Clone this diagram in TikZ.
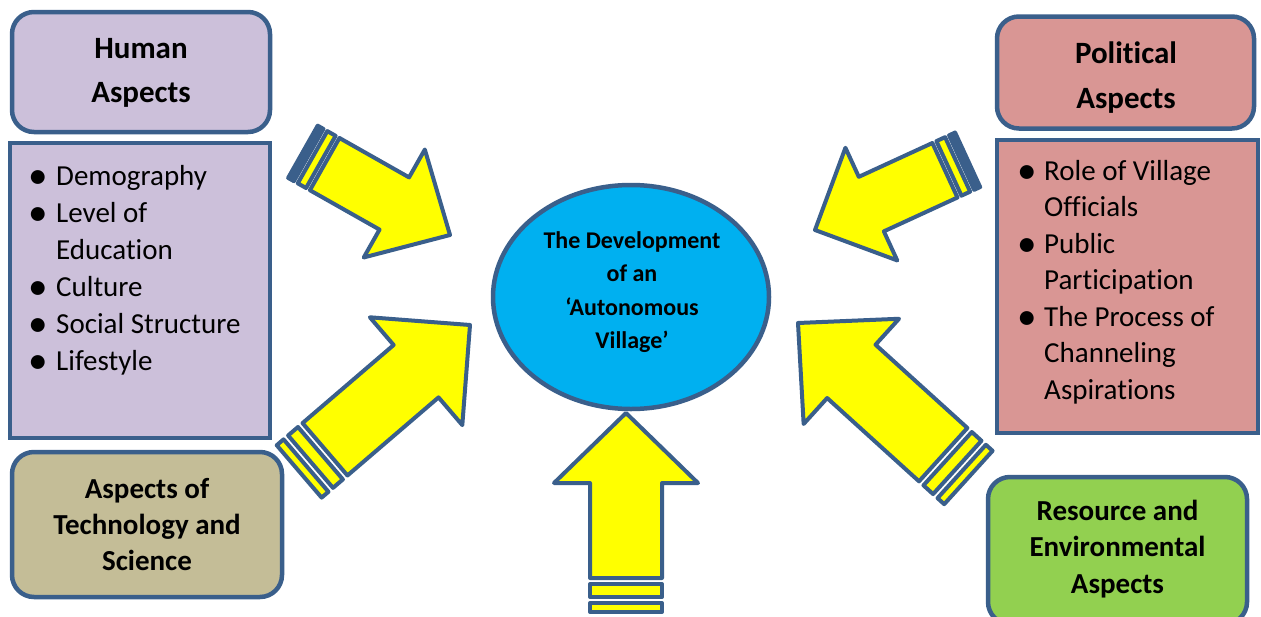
\documentclass[tikz,border=0pt]{standalone}
\usepackage{fontspec}
\usepackage{graphicx}
\setmainfont{Carlito}[Ligatures={NoCommon,NoContextual}]
\usetikzlibrary{shapes.geometric}
\definecolor{edge}{HTML}{3A5F8B}
\definecolor{lav}{HTML}{CCC0DA}
\definecolor{tan}{HTML}{C4BD97}
\definecolor{pinkish}{HTML}{D99694}
\definecolor{grn}{HTML}{92D050}
\definecolor{cyanish}{HTML}{00B0F0}
\definecolor{yel}{HTML}{FFFF00}
\tikzset{
  roundbox/.style={draw=edge, line width=4.5pt, rounded corners=22pt, inner sep=0pt},
  listbox/.style={draw=edge, line width=4.5pt, inner sep=0pt},
  arrowbody/.style={fill=yel, draw=edge, line width=4pt, line join=round},
  txt/.style={anchor=base, inner sep=0pt},
  ltxt/.style={anchor=base west, inner sep=0pt},
}
\def\stripetwofill{yel}
\newcommand\striparrow[9]{%
  \begin{scope}[shift={(#2,#3)},rotate=#4]
    \pgfmathsetmacro\sae{#5-#9}
    \pgfmathsetmacro\sak{#9/34}
    \coordinate (#1) at (0,0);
    \filldraw[arrowbody] (0,0) -- (-#6,#7) -- (-#6,#8) -- (-\sae,#8) -- (-\sae,-#8) -- (-#6,-#8) -- (-#6,-#7) -- cycle;
    \filldraw[arrowbody] ({-\sae-6*\sak},#8) rectangle ({-\sae-19*\sak},-#8);
    \filldraw[arrowbody, fill=\stripetwofill] ({-\sae-25*\sak},#8) rectangle (-#5,-#8);
  \end{scope}}
\newcommand\bul[1]{\leavevmode\llap{\makebox[0pt]{\raisebox{-3pt}{\scalebox{1.35}{\textbullet}}}\hspace{#1}}}
\begin{document}
\begin{tikzpicture}[x=1pt,y=-1pt]
\clip (0,0) rectangle (1261,616);
\fill[white] (0,0) rectangle (1261,616);

% boxes
\node[roundbox, fill=lav, minimum width=258pt, minimum height=120pt] (human) at (141,72) {};
\node[listbox, fill=lav, minimum width=260pt, minimum height=295pt] (humanlist) at (140,290.5) {};
\node[roundbox, fill=tan, minimum width=270pt, minimum height=145pt] (tech) at (147,524.5) {};
\node[roundbox, fill=pinkish, minimum width=257pt, minimum height=112pt] (pol) at (1125.5,72.5) {};
\node[listbox, fill=pinkish, minimum width=261pt, minimum height=293pt] (pollist) at (1127.5,286.5) {};
\node[roundbox, fill=grn, minimum width=259pt, minimum height=147pt] (res) at (1117.5,550.5) {};
\node[ellipse, draw=edge, line width=4.5pt, fill=cyanish, minimum width=276pt, minimum height=224pt, inner sep=0pt] (goal) at (631,297) {};

% texts
\node[txt] (humanT) at (141,58.5) {\parbox[t]{250pt}{\centering\fontsize{31}{43.5}\selectfont\bfseries Human\\Aspects}};
\node[txt] (polT) at (1126,63.5) {\parbox[t]{250pt}{\centering\fontsize{31}{44.5}\selectfont\bfseries Political\\Aspects}};
\node[txt] (techT) at (147,498) {\parbox[t]{260pt}{\centering\fontsize{29}{36}\selectfont\bfseries Aspects of\\Technology and\\Science}};
\node[txt] (resT) at (1117.5,520) {\parbox[t]{255pt}{\centering\fontsize{29}{36.5}\selectfont\bfseries Resource and\\Environmental\\Aspects}};
\node[txt] (goalT) at (632,248) {\parbox[t]{250pt}{\centering\fontsize{24}{33.5}\selectfont\bfseries The Development\\of an\\‘Autonomous\\Village’}};
\node[ltxt] (humanL) at (56,185) {\parbox[t]{210pt}{\fontsize{29}{37}\selectfont
  \bul{18pt}Demography\\
  \bul{18pt}Level of\\
  Education\\
  \bul{18pt}Culture\\
  \bul{18pt}Social Structure\\
  \bul{18pt}Lifestyle}};
\node[ltxt] (polL) at (1044,180) {\parbox[t]{210pt}{\fontsize{29}{36.5}\selectfont
  \bul{17pt}Role of Village\\
  Officials\\
  \bul{17pt}Public\\
  Participation\\
  \bul{17pt}The Process of\\
  Channeling\\
  Aspirations}};

% arrows
\def\stripetwofill{edge}
\striparrow{aTL}{450}{235}{-29.5}{169}{64}{62}{30}{25}
\striparrow{aTR}{815}{230}{-155.3}{168}{62}{62}{30}{25}
\def\stripetwofill{yel}
\striparrow{aBL}{470}{325}{40.6}{225}{71}{71}{34.5}{34}
\striparrow{aBR}{798}{323}{137.8}{230}{72}{71}{36}{34}
\striparrow{aB}{626}{413}{90}{199}{70}{72}{36}{34}
\end{tikzpicture}
\end{document}
